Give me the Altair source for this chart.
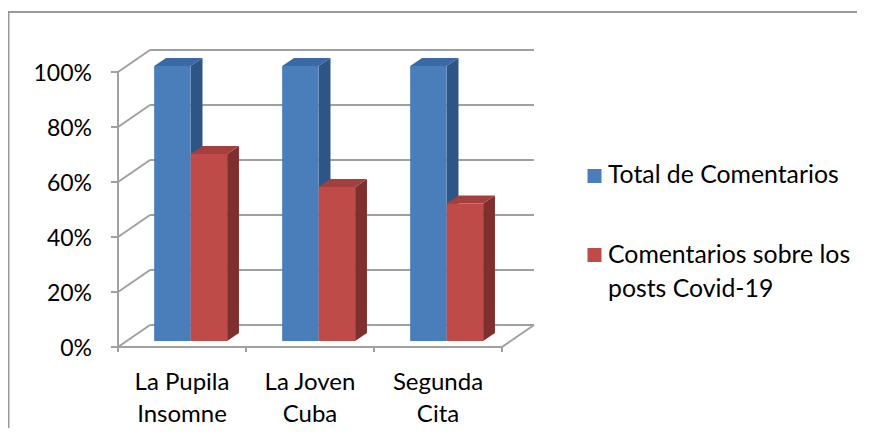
import altair as alt
import pandas as pd

# ---- data -------------------------------------------------------------
categories = ["La Pupila Insomne", "La Joven Cuba", "Segunda Cita"]
category_labels = ["La Pupila\nInsomne", "La Joven\nCuba", "Segunda\nCita"]
series = ["Total de Comentarios", "Comentarios sobre los posts Covid-19"]
total_share = [1.00, 1.00, 1.00]
covid_share = [0.68, 0.56, 0.50]
y_ticks = [0.0, 0.2, 0.4, 0.6, 0.8, 1.0]
y_tick_labels = ["0%", "20%", "40%", "60%", "80%", "100%"]

# ---- 3-D geometry (in data units) ---------------------------------------
DX, DY = 0.25, 0.08        # depth of the box (x in category units, y in share)
F0, F1 = 0.27, 0.64        # bar front / back depth fractions
BW = 0.285                 # bar width in category units

front_fill = ["#4A7EBB", "#BE4B48"]
top_fill = ["#3B69A6", "#A3403D"]
side_fill = ["#2F5486", "#7F302E"]
GRID = "#A0A0A0"
FONT = "Lato"

W, H = 850, 420
xs = alt.Scale(domain=[0, 3], range=[110, 494], nice=False, zero=False)
ys = alt.Scale(domain=[0, 1], range=[339, 64], nice=False, zero=False)

front_rows, top_rows, side_rows = [], [], []
for i, cat in enumerate(categories):
    for s, (name, vals) in enumerate(zip(series, [total_share, covid_share])):
        v = vals[i]
        bar = f"{i}-{s}"

        def left(f, i=i, s=s):
            return i + 0.5 + f * DX - (BW if s == 0 else 0)

        front_rows.append(dict(bar=bar, series=name, x=left(F0), x2=left(F0) + BW,
                               y=F0 * DY, y2=v + F0 * DY))
        for f in (F0, F1):
            top_rows.append(dict(bar=bar, series=name, y=v + f * DY,
                                 x=left(f), x2=left(f) + BW))
            side_rows.append(dict(bar=bar, series=name, x=left(f) + BW,
                                  y=v + f * DY, y2=f * DY))

front_df = pd.DataFrame(front_rows)
top_df = pd.DataFrame(top_rows)
side_df = pd.DataFrame(side_rows)

n = len(categories)
seg_rows = []
for v in y_ticks:
    seg_rows.append(dict(x=DX, y=v + DY, x2=n + DX, y2=v + DY))   # back wall
    seg_rows.append(dict(x=0, y=v, x2=DX, y2=v + DY))             # side wall
    seg_rows.append(dict(x=-0.055, y=v, x2=0, y2=v))              # value ticks
seg_rows.append(dict(x=0, y=0, x2=0, y2=1))                         # value axis line
seg_rows.append(dict(x=0, y=0, x2=n, y2=0))                         # front floor edge
seg_rows.append(dict(x=n, y=0, x2=n + DX, y2=DY))                   # right floor edge
for k in range(n + 1):
    seg_rows.append(dict(x=k, y=0, x2=k, y2=-0.018))                # category ticks
seg_df = pd.DataFrame(seg_rows)

label_df = pd.DataFrame({"x": [i + 0.5 for i in range(n)], "label": category_labels})
ylab_df = pd.DataFrame({"x": [0] * len(y_ticks), "y": y_ticks, "label": y_tick_labels})


def cscale(rng):
    return alt.Scale(domain=series, range=rng)


walls = alt.Chart(seg_df).mark_rule(color=GRID, strokeWidth=2).encode(
    x=alt.X("x:Q", scale=xs, axis=None),
    x2="x2:Q",
    y=alt.Y("y:Q", scale=ys, axis=None),
    y2="y2:Q",
)

ylabels = alt.Chart(ylab_df).mark_text(
    font=FONT, fontSize=23, align="right", baseline="middle", dx=-26, dy=2,
    color="#000000",
).encode(
    x=alt.X("x:Q", scale=xs, axis=None),
    y=alt.Y("y:Q", scale=ys, axis=None),
    text="label:N",
)

sides = alt.Chart(side_df).mark_area(orient="vertical", opacity=1).encode(
    x=alt.X("x:Q", scale=xs, axis=None),
    y=alt.Y("y:Q", scale=ys, axis=None, stack=None),
    y2="y2:Q",
    detail="bar:N",
    color=alt.Color("series:N", scale=cscale(side_fill), legend=None),
)

tops = alt.Chart(top_df).mark_area(orient="horizontal", opacity=1).encode(
    y=alt.Y("y:Q", scale=ys, axis=None),
    x=alt.X("x:Q", scale=xs, axis=None, stack=None),
    x2="x2:Q",
    detail="bar:N",
    color=alt.Color("series:N", scale=cscale(top_fill), legend=None),
)

fronts = alt.Chart(front_df).mark_rect(opacity=1).encode(
    x=alt.X("x:Q", scale=xs, axis=None),
    x2="x2:Q",
    y=alt.Y("y:Q", scale=ys, axis=None),
    y2="y2:Q",
    color=alt.Color("series:N", scale=cscale(front_fill), legend=None),
)

labels = alt.Chart(label_df).mark_text(
    font=FONT, fontSize=24, lineBreak="\n", lineHeight=32, baseline="alphabetic",
    align="center", dy=43, color="#000000",
).encode(
    x=alt.X("x:Q", scale=xs, axis=None),
    y=alt.datum(0),
    text="label:N",
)

border_top = alt.Chart().mark_rule(color="#999999", strokeWidth=2).encode(
    x=alt.value(0), x2=alt.value(W - 1), y=alt.value(4))
border_left = alt.Chart().mark_rule(color="#999999", strokeWidth=2).encode(
    x=alt.value(0.5), y=alt.value(4), y2=alt.value(H))

leg_sq1 = alt.Chart().mark_square(size=196, opacity=1, color=front_fill[0]).encode(
    x=alt.value(586.5), y=alt.value(168))
leg_sq2 = alt.Chart().mark_square(size=196, opacity=1, color=front_fill[1]).encode(
    x=alt.value(586.5), y=alt.value(247))
leg_t1 = alt.Chart().mark_text(
    text=series[0], font=FONT, fontSize=24.8, align="left", baseline="alphabetic",
    color="#000000").encode(x=alt.value(600), y=alt.value(175))
leg_t2 = alt.Chart().mark_text(
    text="Comentarios sobre los\nposts Covid-19", lineBreak="\n", lineHeight=33.5,
    font=FONT, fontSize=24.8, align="left", baseline="alphabetic",
    color="#000000").encode(x=alt.value(600), y=alt.value(255))

chart = alt.layer(
    border_top, border_left, walls, ylabels, sides, tops, fronts, labels,
    leg_sq1, leg_sq2, leg_t1, leg_t2,
).resolve_scale(color="independent").properties(
    width=W, height=H, padding=0,
    autosize=alt.AutoSizeParams(type="none"),
    background="#FFFFFF",
).configure_view(stroke="transparent", strokeWidth=0)

chart.save("out.html", embed_options={"renderer": "svg", "actions": False})
